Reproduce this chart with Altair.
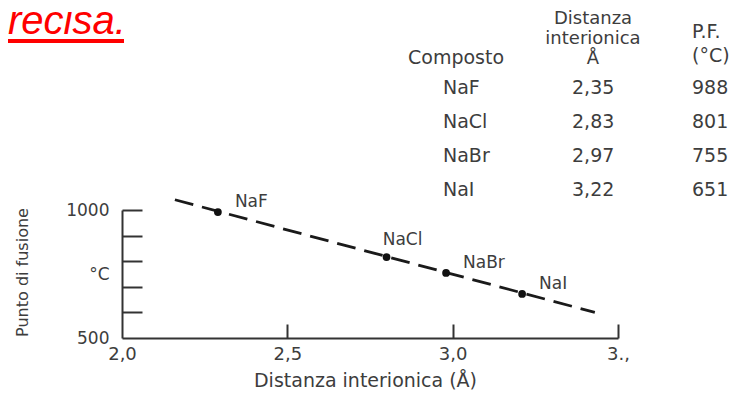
import altair as alt
import pandas as pd

# ---- data ----
compounds = ["NaF", "NaCl", "NaBr", "NaI"]
table_distance = ["2,35", "2,83", "2,97", "3,22"]
table_melting = ["988", "801", "755", "651"]
plot_distance = [2.29, 2.80, 2.98, 3.21]
plot_melting = [992, 816, 754, 672]
fit_distance = [2.16, 3.43]
fit_melting = [1040, 600]
x_ticks = [2.0, 2.5, 3.0, 3.5]
y_label_values = [500, 750, 1000]
y_tick_values = [600, 700, 800, 900, 1000]
header_compound = "Composto"
header_distance = "Distanza\ninterionica\nÅ"
header_mp = "P.F.\n(°C)"
x_title = "Distanza interionica (Å)"
y_title = "Punto di fusione"
banner = "recisa."

W, H = 732, 383
FONT = "DejaVu Sans"
GREY = "#3d3d3d"

df = pd.DataFrame({
    "compound": compounds,
    "tdist": table_distance,
    "tmp": table_melting,
    "px": plot_distance,
    "py": plot_melting,
})
fit = pd.DataFrame({"d": fit_distance, "m": fit_melting})
one = pd.DataFrame({"a": [0]})

xscale = alt.Scale(domain=[2.0, 3.5], range=[114, 610], nice=False, zero=False)
yscale = alt.Scale(domain=[500, 1000], range=[330, 202], nice=False, zero=False)

line = alt.Chart(fit).mark_line(strokeDash=[19, 9], strokeWidth=2.8, color="#1a1a1a").encode(
    x=alt.X("d:Q", scale=xscale, axis=alt.Axis(
        orient="bottom", offset=-(H - 330), values=x_ticks,
        labelExpr="datum.value == 3.5 ? '3.,' : replace(format(datum.value, '.1f'), '.', ',')",
        ticks=False, domainColor="#333", domainWidth=2, grid=False,
        labelFontSize=18, labelColor=GREY, labelPadding=7, labelFlush=False, labelOverlap=False,
        title=x_title, titleFontSize=19, titleFontWeight="normal", titleColor=GREY,
        titleX=357, titleY=48, titleBaseline="alphabetic", titleAlign="center")),
    y=alt.Y("m:Q", scale=yscale, axis=alt.Axis(
        orient="left", offset=-114, values=y_label_values,
        labelExpr="datum.value == 750 ? '°C' : format(datum.value, 'd')",
        ticks=False, domainColor="#333", domainWidth=2, grid=False,
        labelFontSize=17, labelColor=GREY, labelPadding=13, labelFlush=False, labelOverlap=False,
        title=y_title, titleFontSize=16, titleFontWeight="normal", titleColor=GREY,
        titleX=-100, titleY=264, titleAngle=270, titleBaseline="middle", titleAlign="center")),
)

points = alt.Chart(df).mark_circle(size=60, color="#111", opacity=1).encode(
    x=alt.X("px:Q", scale=xscale, axis=alt.Axis(
        orient="top", offset=-330, values=[2.5, 3.0, 3.5], labels=False, domain=False,
        tickSize=14, tickWidth=2, tickColor="#333", grid=False, title=None)),
    y=alt.Y("py:Q", scale=yscale, axis=alt.Axis(
        orient="right", offset=-(W - 114), values=y_tick_values, labels=False, domain=False,
        tickSize=20, tickWidth=2, tickColor="#333", grid=False, title=None)),
)

labels = alt.Chart(df).transform_filter("datum.compound != 'NaCl'").mark_text(
    align="left", baseline="middle", dx=17, dy=-10, fontSize=17, font=FONT, color=GREY
).encode(
    x=alt.X("px:Q", scale=xscale, axis=None),
    y=alt.Y("py:Q", scale=yscale, axis=None),
    text="compound:N",
)
label_nacl = alt.Chart(df).transform_filter("datum.compound == 'NaCl'").mark_text(
    align="center", baseline="middle", dx=16, dy=-17, fontSize=17, font=FONT, color=GREY
).encode(
    x=alt.X("px:Q", scale=xscale, axis=None),
    y=alt.Y("py:Q", scale=yscale, axis=None),
    text="compound:N",
)

rowscale = alt.Scale(type="point", domain=compounds, range=[80, 182], padding=0)

def table_col(field, xpos):
    return alt.Chart(df).mark_text(
        align="left", baseline="middle", fontSize=19, font=FONT, color=GREY
    ).encode(
        x=alt.value(xpos),
        y=alt.Y("compound:N", scale=rowscale, axis=None),
        text=f"{field}:N",
    )

col_name = table_col("compound", 435)
col_dist = table_col("tdist", 564)
col_mp = table_col("tmp", 684)

h1 = alt.Chart(one).mark_text(align="left", baseline="middle", fontSize=19, font=FONT, color=GREY).encode(
    x=alt.value(400), y=alt.value(50), text=alt.value(header_compound))
h2 = alt.Chart(one).mark_text(align="center", baseline="middle", fontSize=18, font=FONT, color=GREY,
                              lineBreak="\n", lineHeight=20).encode(
    x=alt.value(585), y=alt.value(11), text=alt.value(header_distance))
h3 = alt.Chart(one).mark_text(align="left", baseline="middle", fontSize=19, font=FONT, color=GREY,
                              lineBreak="\n", lineHeight=24).encode(
    x=alt.value(684), y=alt.value(24), text=alt.value(header_mp))

red_text = alt.Chart(one).mark_text(align="left", baseline="alphabetic", fontSize=40,
                                    font="Liberation Sans", fontStyle="italic", color="#ff0000").encode(
    x=alt.value(0), y=alt.value(26), text=alt.value(banner))
red_rule = alt.Chart(one).mark_rule(color="#ff0000", strokeWidth=4).encode(
    x=alt.value(0), x2=alt.value(116), y=alt.value(33))

chart = alt.layer(
    line, points, labels, label_nacl, col_name, col_dist, col_mp, h1, h2, h3, red_text, red_rule
).resolve_scale(y="independent").resolve_axis(x="independent", y="independent").properties(
    width=W, height=H, autosize=alt.AutoSizeParams(type="none"), padding=0, background="white"
).configure_view(stroke=None).configure_axis(labelFont=FONT, titleFont=FONT)

chart.save("out.html", embed_options={"renderer": "svg", "actions": False})
